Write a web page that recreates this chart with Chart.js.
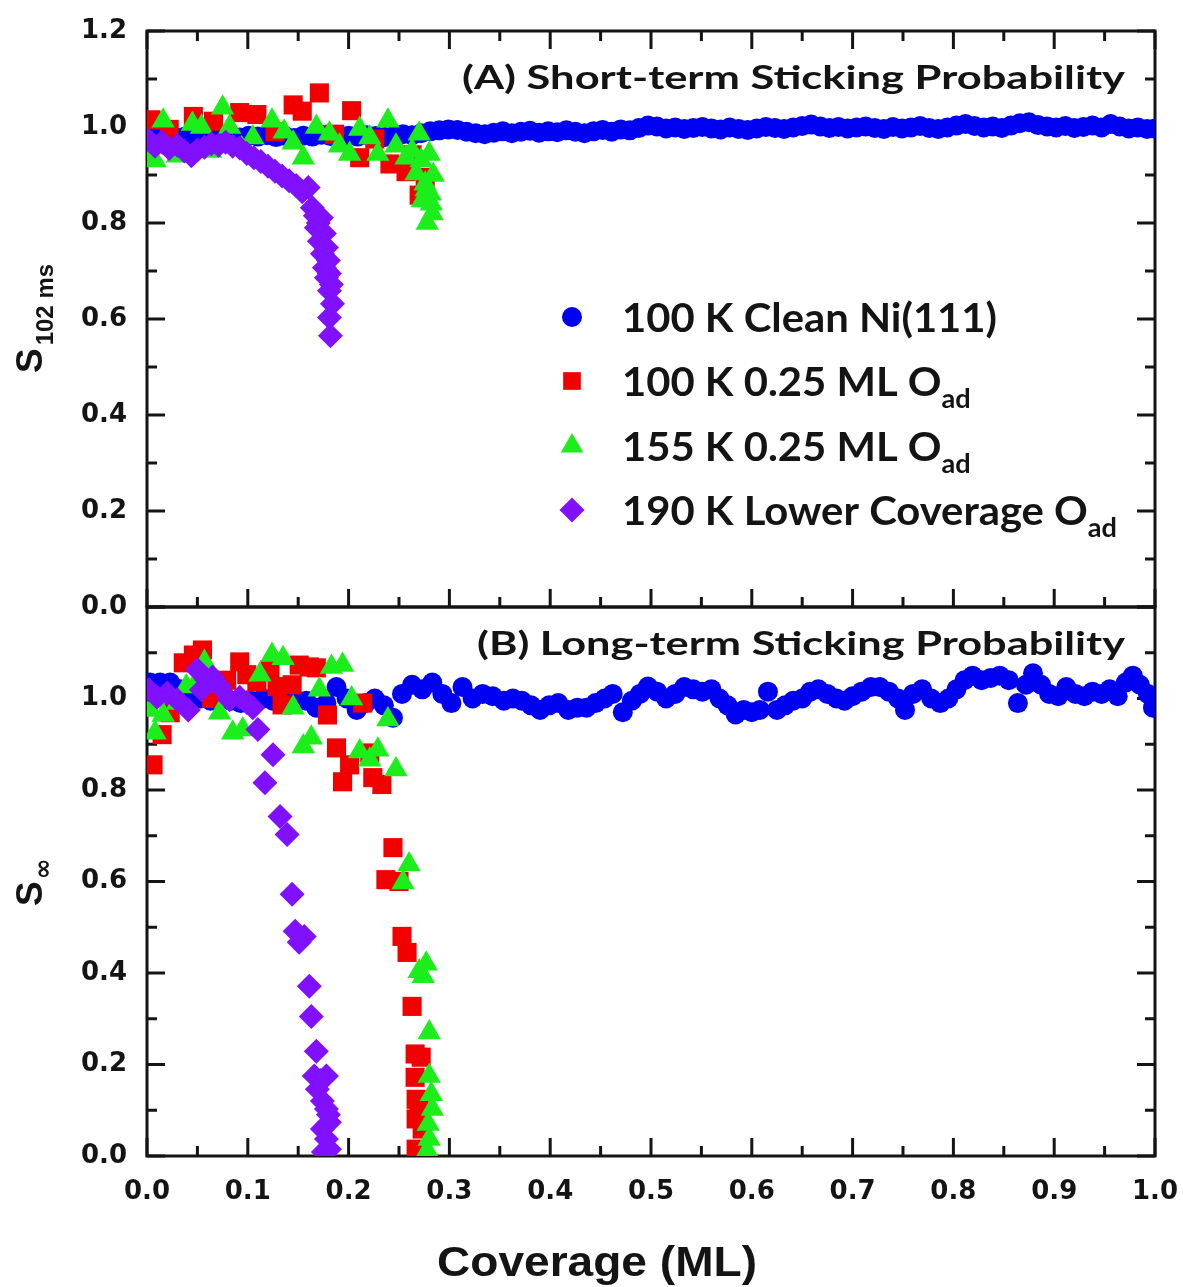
<!DOCTYPE html>
<html>
<head>
<meta charset="utf-8">
<title>Sticking probability vs coverage</title>
<script src="https://cdn.jsdelivr.net/npm/chart.js@4.4.1/dist/chart.umd.min.js"></script>
<style>
  html, body { margin: 0; padding: 0; background: #ffffff; }
  #wrap { position: relative; width: 1183px; height: 1287px; overflow: hidden; }
  #wrap canvas { position: absolute; left: 0; top: 0; }
</style>
</head>
<body>
<div id="wrap">
  <canvas id="panelA" width="1183" height="1287"></canvas>
  <canvas id="panelB" width="1183" height="1287"></canvas>
</div>
<script>
// ---------------- axis ticks ----------------
const xTickValues  = [0.0, 0.1, 0.2, 0.3, 0.4, 0.5, 0.6, 0.7, 0.8, 0.9, 1.0];
const xMinorValues = [0.05, 0.15, 0.25, 0.35, 0.45, 0.55, 0.65, 0.75, 0.85, 0.95];
const yTickValues  = [0.0, 0.2, 0.4, 0.6, 0.8, 1.0, 1.2];
const yMinorValues = [0.1, 0.3, 0.5, 0.7, 0.9, 1.1];

// ---------------- text ----------------
const titleA = '(A) Short-term Sticking Probability';
const titleB = '(B) Long-term Sticking Probability';
const xTitle = 'Coverage (ML)';
const yTitleA = ['S', '102 ms'];
const yTitleB = ['S', '\u221E'];
const legendMain = ['100 K Clean Ni(111)', '100 K 0.25 ML O', '155 K 0.25 ML O', '190 K Lower Coverage O'];
const legendSub  = ['', 'ad', 'ad', 'ad'];

// ---------------- (A) short-term sticking probability ----------------
const cleanA_x = [
  0.002,0.011,0.020,0.029,0.038,0.047,0.056,0.065,0.074,0.083,
  0.092,0.101,0.110,0.119,0.128,0.137,0.146,0.155,0.164,0.173,
  0.182,0.191,0.200,0.209,0.218,0.227,0.236,0.245,0.254,0.263,
  0.272,0.281,0.290,0.299,0.308,0.317,0.326,0.335,0.344,0.353,
  0.362,0.371,0.380,0.389,0.398,0.407,0.416,0.425,0.434,0.443,
  0.452,0.461,0.470,0.479,0.488,0.497,0.506,0.515,0.524,0.533,
  0.542,0.551,0.560,0.569,0.578,0.587,0.596,0.605,0.614,0.623,
  0.632,0.641,0.650,0.659,0.668,0.677,0.686,0.695,0.704,0.713,
  0.722,0.731,0.740,0.749,0.758,0.767,0.776,0.785,0.794,0.803,
  0.812,0.821,0.830,0.839,0.848,0.857,0.866,0.875,0.884,0.893,
  0.902,0.911,0.920,0.929,0.938,0.947,0.956,0.965,0.974,0.983,
  0.992,1.000];
const cleanA_y = [
  0.981,0.979,0.982,0.978,0.980,0.983,0.979,0.981,0.984,0.980,
  0.978,0.982,0.980,0.983,0.979,0.981,0.977,0.982,0.980,0.984,
  0.981,0.979,0.982,0.980,0.983,0.981,0.979,0.982,0.985,0.983,
  0.987,0.991,0.993,0.995,0.994,0.990,0.987,0.985,0.988,0.991,
  0.987,0.990,0.992,0.988,0.991,0.989,0.993,0.990,0.987,0.991,
  0.994,0.990,0.995,0.993,0.998,1.003,1.001,0.997,0.999,0.996,
  0.998,1.000,0.997,0.995,0.999,0.996,0.994,0.997,1.000,0.998,
  0.996,0.999,1.002,1.005,1.001,0.998,1.000,0.997,0.999,1.001,
  0.998,0.996,1.000,0.997,0.999,1.002,0.998,0.996,0.999,1.003,
  1.006,1.002,0.999,1.001,0.998,1.003,1.008,1.010,1.004,1.001,
  0.999,1.002,0.998,1.000,1.003,0.999,1.006,1.001,0.997,0.999,
  0.996,0.997];

const oxyA_x = [0.004,0.022,0.046,0.066,0.092,0.109,0.127,0.145,0.154,0.171,
                0.186,0.203,0.211,0.226,0.241,0.257,0.263,0.270,0.276];
const oxyA_y = [1.015,0.995,1.022,1.012,1.030,1.026,0.990,1.046,1.033,1.071,
                0.985,1.034,0.936,0.975,0.923,0.907,0.942,0.858,0.895];

const oxy155A_x = [0.003,0.008,0.016,0.030,0.045,0.054,0.063,0.075,0.082,0.094,
                   0.105,0.124,0.136,0.145,0.155,0.168,0.181,0.191,0.201,0.211,
                   0.221,0.229,0.239,0.247,0.257,0.263,0.267,0.270,0.273,0.276,
                   0.278,0.280,0.281,0.283,0.284,0.272,0.277,0.282];
const oxy155A_y = [0.945,0.930,1.013,0.940,1.006,1.000,0.950,1.040,1.000,0.955,
                   0.978,1.013,0.990,0.967,0.936,1.000,0.986,0.961,0.944,0.996,
                   0.978,0.944,1.013,0.961,0.936,0.950,0.903,0.986,0.847,0.882,
                   0.800,0.944,0.861,0.820,0.900,0.930,0.870,0.840];

const low190A_x = [0.002,0.008,0.015,0.022,0.030,0.037,0.044,0.050,0.057,0.064,
                   0.071,0.078,0.085,0.092,0.099,0.106,0.113,0.120,0.127,0.134,
                   0.141,0.148,0.154,0.160,0.164,0.167,0.170,0.173,0.168,0.176,
                   0.171,0.178,0.174,0.180,0.176,0.181,0.178,0.183,0.181,0.184,
                   0.181,0.182];
const low190A_y = [0.972,0.960,0.968,0.955,0.962,0.950,0.940,0.952,0.958,0.965,
                   0.962,0.968,0.960,0.956,0.945,0.936,0.928,0.918,0.908,0.898,
                   0.888,0.878,0.865,0.874,0.832,0.815,0.800,0.811,0.790,0.778,
                   0.762,0.749,0.736,0.722,0.707,0.695,0.686,0.672,0.659,0.632,
                   0.603,0.565];

// ---------------- (B) long-term sticking probability ----------------
const cleanB_x = [
  0.003,0.013,0.023,0.033,0.043,0.053,0.063,0.073,0.083,0.093,
  0.103,0.115,0.125,0.137,0.148,0.158,0.168,0.178,0.188,0.198,
  0.208,0.217,0.226,0.235,0.244,0.253,0.263,0.273,0.283,0.293,
  0.302,0.313,0.323,0.333,0.343,0.354,0.363,0.372,0.381,0.390,
  0.399,0.408,0.418,0.427,0.436,0.445,0.454,0.462,0.472,0.481,
  0.489,0.497,0.506,0.515,0.524,0.533,0.542,0.551,0.560,0.568,
  0.576,0.584,0.592,0.600,0.608,0.616,0.625,0.633,0.641,0.650,
  0.658,0.666,0.675,0.684,0.692,0.700,0.709,0.718,0.727,0.736,
  0.745,0.752,0.760,0.769,0.778,0.787,0.795,0.803,0.811,0.819,
  0.828,0.837,0.846,0.855,0.864,0.872,0.879,0.887,0.895,0.904,
  0.912,0.921,0.930,0.938,0.947,0.955,0.963,0.971,0.978,0.985,
  0.993,0.998];
const cleanB_y = [
  1.035,1.035,1.035,1.020,1.000,1.000,0.995,1.000,0.995,0.990,
  0.995,1.000,0.995,0.990,0.995,0.995,0.980,0.990,1.025,1.000,
  0.975,0.990,1.000,0.985,0.958,1.010,1.030,1.020,1.035,1.010,
  0.990,1.025,1.000,1.010,1.005,0.995,1.000,0.995,0.985,0.975,
  0.985,0.990,0.975,0.980,0.980,0.990,1.000,1.010,0.970,0.995,
  1.010,1.026,1.015,1.000,1.010,1.025,1.020,1.015,1.020,1.000,
  0.985,0.965,0.975,0.970,0.975,1.015,0.975,0.985,0.995,1.000,
  1.015,1.020,1.010,1.000,0.995,1.005,1.015,1.025,1.025,1.015,
  1.000,0.975,1.010,1.020,1.000,0.990,1.000,1.020,1.040,1.050,
  1.040,1.045,1.050,1.040,0.990,1.030,1.055,1.030,1.010,1.005,
  1.025,1.010,1.005,1.015,1.010,1.020,1.005,1.035,1.050,1.030,
  1.010,0.980];

const oxyB_x = [0.006,0.015,0.023,0.036,0.046,0.055,0.064,0.079,0.092,0.099,
                0.109,0.122,0.129,0.134,0.144,0.151,0.161,0.168,0.179,0.188,
                0.194,0.201,0.214,0.221,0.224,0.233,0.244,0.237,0.250,0.253,
                0.258,0.263,0.266,0.272,0.266,0.267,0.267,0.273,0.267,0.270];
const oxyB_y = [0.855,0.921,0.969,1.078,1.095,1.106,1.000,1.040,1.080,1.052,
                1.036,1.063,1.026,0.986,1.030,1.073,1.069,1.067,0.964,0.892,
                0.818,0.855,0.990,0.881,0.827,0.812,0.674,0.604,0.600,0.480,
                0.445,0.327,0.223,0.216,0.172,0.124,0.081,0.059,0.015,0.100];

const oxy155B_x = [0.003,0.008,0.016,0.030,0.039,0.050,0.057,0.072,0.085,0.095,
                   0.112,0.124,0.135,0.145,0.155,0.163,0.171,0.183,0.194,0.203,
                   0.211,0.221,0.229,0.239,0.247,0.254,0.260,0.270,0.274,0.277,
                   0.280,0.280,0.282,0.283,0.279,0.280,0.278];
const oxy155B_y = [0.975,0.925,0.964,0.990,1.026,1.040,1.080,0.969,0.925,0.932,
                   1.052,1.095,1.088,0.980,0.895,0.914,1.019,1.069,1.073,1.000,
                   0.884,0.866,0.888,0.954,0.845,0.598,0.637,0.404,0.393,0.420,
                   0.270,0.175,0.135,0.103,0.070,0.037,0.012];

const low190B_x = [0.002,0.010,0.020,0.030,0.041,0.050,0.054,0.059,0.065,0.072,
                   0.082,0.092,0.099,0.105,0.110,0.117,0.125,0.132,0.139,0.144,
                   0.147,0.151,0.156,0.161,0.163,0.168,0.166,0.172,0.178,0.169,
                   0.174,0.178,0.181,0.174,0.178,0.181,0.175,0.180];
const low190B_y = [1.019,1.003,1.012,0.997,0.975,1.063,1.019,1.041,1.047,1.026,
                   0.997,1.003,0.991,0.980,0.932,0.816,0.877,0.742,0.703,0.572,
                   0.491,0.467,0.480,0.371,0.305,0.229,0.175,0.165,0.175,0.146,
                   0.120,0.103,0.074,0.059,0.037,0.015,0.009,0.090];

// ---------------- styling & layout ----------------
const W = 1183, H = 1287;
const PLOT_LEFT = 147, PLOT_RIGHT = 1155;
const A_TOP = 31, A_BOTTOM = 607;
const B_TOP = 607, B_BOTTOM = 1156;
const INK = '#141414';

const markerStyles = [
  { color: '#0000f2', pointStyle: 'circle',   radius: 10,   order: 4 },
  { color: '#f20000', pointStyle: 'rect',     radius: 13.5, order: 3 },
  { color: '#1cee1c', pointStyle: 'triangle', radius: 13.5, order: 2 },
  { color: '#8010ff', pointStyle: 'rectRot',  radius: 12.5, order: 1 }
];
const legendMarkerRadius = [10, 12.5, 13, 12.5];

const TICK_FONT = { family: "'DejaVu Sans', 'Liberation Sans', sans-serif", size: 26, weight: 'bold' };
const TITLE_FONT = "bold 33px Lato, 'Open Sans', sans-serif";
const LEG_FONT = "bold 40px Lato, 'Open Sans', sans-serif";
const LEG_SUB_FONT = "bold 26px Lato, 'Open Sans', sans-serif";
const AXIS_FONT = "bold 43px 'Liberation Sans', Arial, sans-serif";
const S_FONT = "bold 37px 'Liberation Sans', Arial, sans-serif";
const S_SUB_FONT = "bold 24px 'Liberation Sans', Arial, sans-serif";
const INF_FONT = "bold 25px 'DejaVu Sans', sans-serif";

function toPoints(xs, ys) { return xs.map((x, i) => ({ x: x, y: ys[i] })); }

function makeDatasets(seriesList) {
  return seriesList.map((s, i) => {
    const st = markerStyles[i];
    return {
      label: legendMain[i] + legendSub[i],
      data: toPoints(s[0], s[1]),
      showLine: false,
      pointStyle: st.pointStyle,
      pointRadius: st.radius,
      pointHoverRadius: st.radius,
      pointBorderWidth: 0,
      backgroundColor: st.color,
      borderColor: st.color,
      order: st.order
    };
  });
}

// text runs (main + subscript) fitted to a given width
function runsWidth(ctx, runs) {
  let w = 0;
  runs.forEach(r => { ctx.font = r.font; w += ctx.measureText(r.text).width; });
  return w;
}
function drawRuns(ctx, runs, x, y, sx) {
  ctx.save();
  ctx.translate(x, y);
  ctx.scale(sx, 1);
  let cx = 0;
  runs.forEach(r => {
    ctx.font = r.font;
    ctx.fillText(r.text, cx, r.dy || 0);
    cx += ctx.measureText(r.text).width;
  });
  ctx.restore();
}
function drawFitted(ctx, runs, x, y, width) {
  const w = runsWidth(ctx, runs);
  drawRuns(ctx, runs, x, y, width / w);
}

// rotated axis title: big letter + subscript
function drawYTitle(ctx, parts, baseX, startY, subFont, subDy, gap) {
  ctx.save();
  ctx.translate(baseX, startY);
  ctx.rotate(-Math.PI / 2);
  ctx.textAlign = 'left';
  ctx.textBaseline = 'alphabetic';
  ctx.font = S_FONT;
  ctx.fillText(parts[0], 0, 0);
  const w = ctx.measureText(parts[0]).width;
  ctx.font = subFont;
  ctx.fillText(parts[1], w + gap, subDy);
  ctx.restore();
}

function drawMarker(ctx, style, r, x, y) {
  ctx.fillStyle = style.color;
  if (Chart.helpers && Chart.helpers.drawPoint) {
    Chart.helpers.drawPoint(ctx, { pointStyle: style.pointStyle, radius: r, rotation: 0, borderWidth: 0 }, x, y);
    return;
  }
  ctx.beginPath();
  ctx.arc(x, y, r, 0, Math.PI * 2);
  ctx.fill();
}

// frame with inward major/minor ticks
const framePlugin = {
  id: 'frame',
  beforeDatasetsDraw(chart, args, opts) {
    const ctx = chart.ctx, a = chart.chartArea;
    const xs = chart.scales.x, ys = chart.scales.y;
    const MAJ = 18, MIN = 10;
    ctx.save();
    ctx.strokeStyle = INK;
    ctx.lineWidth = 3;
    ctx.beginPath();
    const seg = (x1, y1, x2, y2) => { ctx.moveTo(x1, y1); ctx.lineTo(x2, y2); };
    const xTicks = (vals, len) => vals.forEach(v => {
      const p = xs.getPixelForValue(v);
      if (opts.top) seg(p, a.top, p, a.top + len);
      if (opts.bottom) seg(p, a.bottom, p, a.bottom - len);
    });
    const yTicks = (vals, len) => vals.forEach(v => {
      const p = ys.getPixelForValue(v);
      seg(a.left, p, a.left + len, p);
      seg(a.right, p, a.right - len, p);
    });
    xTicks(xTickValues, MAJ); xTicks(xMinorValues, MIN);
    yTicks(yTickValues, MAJ); yTicks(yMinorValues, MIN);
    ctx.stroke();
    ctx.strokeRect(a.left, a.top, a.right - a.left, a.bottom - a.top);
    ctx.restore();
  }
};

function noPadding(s) { s.paddingLeft = 0; s.paddingRight = 0; s.paddingTop = 0; s.paddingBottom = 0; }

function yScale(hideTop) {
  return {
    type: 'linear', position: 'left', min: 0, max: 1.2,
    afterBuildTicks: s => { s.ticks = yTickValues.map(v => ({ value: v })); },
    afterFit: s => { s.width = PLOT_LEFT; noPadding(s); },
    grid: { display: false, drawTicks: false },
    border: { display: false },
    ticks: {
      color: INK, font: TICK_FONT, padding: 20, autoSkip: false,
      callback: v => (hideTop && v > 1.1) ? '' : Number(v).toFixed(1)
    }
  };
}

function buildCharts() {
  // ---------- panel A ----------
  const textA = {
    id: 'textA',
    afterDatasetsDraw(chart) {
      const ctx = chart.ctx;
      ctx.save();
      ctx.fillStyle = INK;
      ctx.textAlign = 'left';
      ctx.textBaseline = 'alphabetic';
      drawFitted(ctx, [{ text: titleA, font: TITLE_FONT }], 462, 89, 1125 - 462);

      // legend
      const rowsY = [317, 381, 446, 510];
      const runsFor = i => legendSub[i]
        ? [{ text: legendMain[i], font: LEG_FONT }, { text: legendSub[i], font: LEG_SUB_FONT, dy: 12 }]
        : [{ text: legendMain[i], font: LEG_FONT }];
      const sx = (1117 - 622) / runsWidth(ctx, runsFor(3));
      rowsY.forEach((y, i) => {
        drawMarker(ctx, markerStyles[i], legendMarkerRadius[i], 572, y);
        ctx.fillStyle = INK;
        drawRuns(ctx, runsFor(i), 622, y + 15, sx);
      });

      ctx.fillStyle = INK;
      drawYTitle(ctx, yTitleA, 42, 373, S_SUB_FONT, 11, 3);
      ctx.restore();
    }
  };

  new Chart(document.getElementById('panelA'), {
    type: 'scatter',
    data: { datasets: makeDatasets([[cleanA_x, cleanA_y], [oxyA_x, oxyA_y], [oxy155A_x, oxy155A_y], [low190A_x, low190A_y]]) },
    options: {
      responsive: false, animation: false, devicePixelRatio: 1,
      layout: { padding: { left: 0, right: W - PLOT_RIGHT, top: A_TOP, bottom: H - A_BOTTOM } },
      scales: {
        x: { type: 'linear', min: 0, max: 1, display: false },
        y: yScale(false)
      },
      plugins: {
        legend: { display: false }, tooltip: { enabled: false },
        frame: { top: true, bottom: true }
      }
    },
    plugins: [framePlugin, textA]
  });

  // ---------- panel B ----------
  const textB = {
    id: 'textB',
    afterDatasetsDraw(chart) {
      const ctx = chart.ctx;
      ctx.save();
      ctx.fillStyle = INK;
      ctx.textAlign = 'left';
      ctx.textBaseline = 'alphabetic';
      drawFitted(ctx, [{ text: titleB, font: TITLE_FONT }], 477, 655, 1125 - 477);
      drawYTitle(ctx, yTitleB, 42, 906, INF_FONT, 9, 2);
      // x axis title
      drawFitted(ctx, [{ text: xTitle, font: AXIS_FONT }], 597 - 320 / 2, 1276, 320);
      ctx.restore();
    }
  };

  new Chart(document.getElementById('panelB'), {
    type: 'scatter',
    data: { datasets: makeDatasets([[cleanB_x, cleanB_y], [oxyB_x, oxyB_y], [oxy155B_x, oxy155B_y], [low190B_x, low190B_y]]) },
    options: {
      responsive: false, animation: false, devicePixelRatio: 1,
      layout: { padding: { left: 0, right: W - PLOT_RIGHT, top: B_TOP, bottom: 0 } },
      scales: {
        x: {
          type: 'linear', position: 'bottom', min: 0, max: 1,
          afterBuildTicks: s => { s.ticks = xTickValues.map(v => ({ value: v })); },
          afterFit: s => { s.height = H - B_BOTTOM; noPadding(s); },
          grid: { display: false, drawTicks: false },
          border: { display: false },
          ticks: { color: INK, font: TICK_FONT, padding: 21, autoSkip: false, maxRotation: 0,
                   callback: v => Number(v).toFixed(1) }
        },
        y: yScale(true)
      },
      plugins: {
        legend: { display: false }, tooltip: { enabled: false },
        frame: { top: false, bottom: true }
      }
    },
    plugins: [framePlugin, textB]
  });
}

const fontLoads = [
  'bold 33px Lato', 'bold 26px "DejaVu Sans"', 'bold 25px "DejaVu Sans"', 'bold 43px "Liberation Sans"'
].map(f => document.fonts ? document.fonts.load(f).catch(() => null) : Promise.resolve());
Promise.all(fontLoads).then(buildCharts, buildCharts);
</script>
</body>
</html>
